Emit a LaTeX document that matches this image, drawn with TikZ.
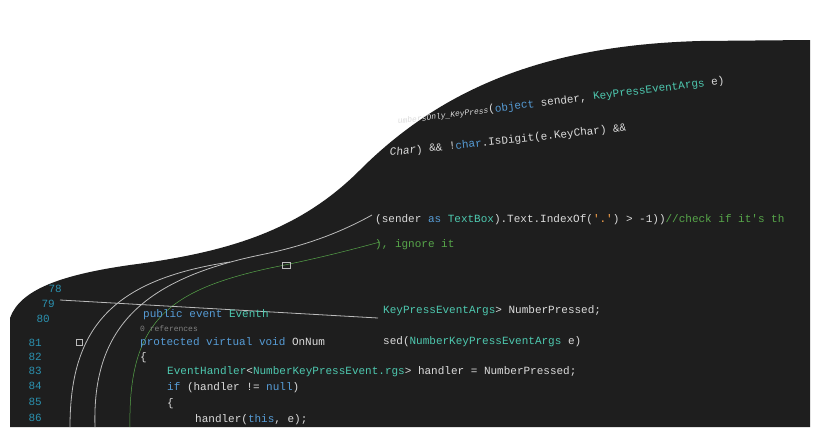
\documentclass[tikz,border=0pt]{standalone}
\usepackage{fontspec}
\setmonofont{Liberation Mono}
\begin{document}
\begin{tikzpicture}[x=1pt,y=-1pt,
  code/.style={anchor=base west,inner sep=0,font=\ttfamily\fontsize{11}{11}\selectfont,text=txt},
  num/.style={anchor=base east,inner sep=0,font=\ttfamily\fontsize{11}{11}\selectfont,text=lnum},
  arcl/.style={draw=arcc,line width=0.8pt}]
\definecolor{bg}{HTML}{1E1E1E}
\definecolor{txt}{HTML}{DCDCDC}
\definecolor{kw}{HTML}{569CD6}
\definecolor{ty}{HTML}{4EC9B0}
\definecolor{cm}{HTML}{57A64A}
\definecolor{lnum}{HTML}{2B91AF}
\definecolor{arcc}{HTML}{BBBBBB}
\useasboundingbox (0,0) rectangle (820,437);
\fill[white] (0,0) rectangle (820,437);
\path[fill=bg] (10,427) -- (10,318) .. controls (20,290) and (60,275) .. (130,265)
  .. controls (230,252) and (300,230) .. (360,170)
  .. controls (450,80) and (560,45) .. (700,41) -- (810,40) -- (810,427) -- cycle;
\begin{scope}
\clip (10,427) -- (10,318) .. controls (20,290) and (60,275) .. (130,265)
  .. controls (230,252) and (300,230) .. (360,170)
  .. controls (450,80) and (560,45) .. (700,41) -- (810,40) -- (810,427) -- cycle;
\draw[arcl] (95,427) .. controls (92,330) and (140,280) .. (260,255) .. controls (310,245) and (345,230) .. (372,215);
\draw[draw=cm,line width=0.5pt] (130,427) .. controls (128,320) and (170,290) .. (270,268) .. controls (320,258) and (350,250) .. (380,242);
\draw[arcl] (70,427) .. controls (70,330) and (110,280) .. (230,262);
\draw[arcl] (60,300) -- (378,318);
\draw[arcl] (76,345) rectangle (82,339);
\draw[arcl] (282,262) rectangle (290,268);
\end{scope}
\node[num] (n78) at (62,292) {78};
\node[num] (n79) at (55,307) {79};
\node[num] (n80) at (50,322) {80};
\node[num] (n81) at (42,346) {81};
\node[num] (n82) at (42,360) {82};
\node[num] (n83) at (42,374) {83};
\node[num] (n84) at (42,389) {84};
\node[num] (n85) at (42,405) {85};
\node[num] (n86) at (42,421) {86};
\node[code] (l1) at (143,317) {\textcolor{kw}{public event} \textcolor{ty}{Eventh}};
\node[code] (l1b) at (383,313) {\textcolor{ty}{KeyPressEventArgs}> NumberPressed;};
\node[code,font=\ttfamily\fontsize{8}{8}\selectfont,text=gray] (ref) at (140,331) {0 references};
\node[code] (l2) at (140,345) {\textcolor{kw}{protected virtual void} OnNum};
\node[code] (l2b) at (383,344) {sed(\textcolor{ty}{NumberKeyPressEventArgs} e)};
\node[code] (l3) at (140,360) {\{};
\node[code] (l4) at (167,374) {\textcolor{ty}{EventHandler}<\textcolor{ty}{NumberKeyPressEvent.rgs}> handler = NumberPressed;};
\node[code] (l5) at (167,390) {\textcolor{kw}{if} (handler != \textcolor{kw}{null})};
\node[code] (l6) at (167,406) {\{};
\node[code] (l7) at (195,422) {handler(\textcolor{kw}{this}, e);};
\node[code] (u1) at (375,222) {(sender \textcolor{kw}{as} \textcolor{ty}{TextBox}).Text.IndexOf(\textcolor{orange!70!white}{'.'}) > -1))\textcolor{cm}{//check if it's th}};
\node[code] (u2) at (375,247) {\textcolor{cm}{), ignore it}};
\node[code,rotate=6] (u3) at (390,156) {\textit{Char}) \&\& !\textcolor{kw}{char}.IsDigit(e.KeyChar) \&\&};
\node[code,rotate=7] (u4) at (398,124) {\textit{\fontsize{8}{8}\selectfont umbersOnly\_KeyPress}(\textcolor{kw}{object} sender, \textcolor{ty}{KeyPressEventArgs} e)};
\end{tikzpicture}
\end{document}
